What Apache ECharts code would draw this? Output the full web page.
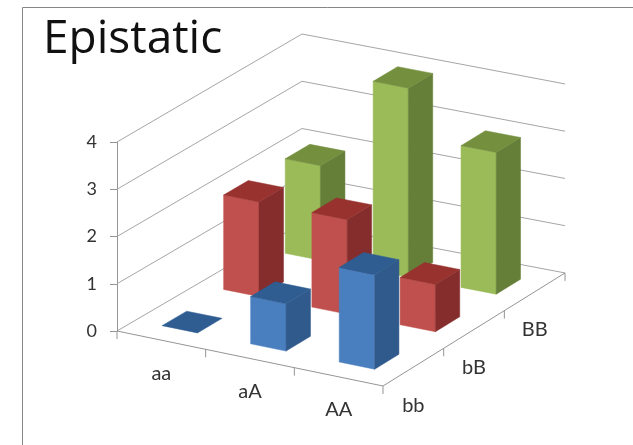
<!DOCTYPE html>
<html>
<head>
<meta charset="utf-8">
<title>Epistatic</title>
<style>
  html, body { margin: 0; padding: 0; background: #fff; }
  #chart { width: 633px; height: 445px; }
</style>
<script src="https://cdn.jsdelivr.net/npm/echarts@6/dist/echarts.min.js"></script>
</head>
<body>
<div id="chart"></div>
<script>
// Genotype categories along the two floor axes
const aLabels = ['aa', 'aA', 'AA'];
const bLabels = ['bb', 'bB', 'BB'];

// Phenotype value for each a-genotype, one list per b-genotype
const bbValues = [0, 1, 2];
const bBValues = [2, 2, 1];
const BBValues = [2, 4, 3];

const valueLevels = [0, 1, 2, 3, 4];

const LABEL_FONT = 'Lato, "Open Sans", sans-serif';
const AXIS_COLOR = '#959595';
const GRID_COLOR = '#a6a6a6';

// Oblique projection of the floor: screen offset per step along each axis
const SKEW_PER_A = 18.33;
const DEPTH_X = 61.67;
const DEPTH_Y = -36;
const TWIST_X = -0.33;
const TWIST_Y = -0.56;

// Bars occupy this fraction of a floor cell in both directions
const BAR_SIZE = 0.4;

// a and v go through the chart's own scales; depth is layered on as a shear
function project(api, a, d, v) {
  const p = api.coord([a, v]);
  return [
    p[0] + d * DEPTH_X + a * d * TWIST_X,
    p[1] + a * SKEW_PER_A + d * DEPTH_Y + a * d * TWIST_Y
  ];
}

function face(points, fill) {
  return { type: 'polygon', shape: { points }, style: { fill, stroke: fill, lineWidth: 0.5 } };
}

function barSeries(name, values, row, colors, z) {
  return {
    name,
    type: 'custom',
    z,
    data: values.map((v, i) => [i, v]),
    encode: { x: 0, y: 1 },
    renderItem(params, api) {
      const a0 = api.value(0) + (1 - BAR_SIZE) / 2;
      const a1 = a0 + BAR_SIZE;
      const d0 = row + (1 - BAR_SIZE) / 2;
      const d1 = d0 + BAR_SIZE;
      const v = api.value(1);
      const at = (a, d, h) => project(api, a, d, h);
      const children = [];
      if (v > 0) {
        children.push(face([at(a0, d0, 0), at(a1, d0, 0), at(a1, d0, v), at(a0, d0, v)], colors.front));
        children.push(face([at(a1, d0, 0), at(a1, d1, 0), at(a1, d1, v), at(a1, d0, v)], colors.side));
      }
      children.push(face([at(a0, d0, v), at(a1, d0, v), at(a1, d1, v), at(a0, d1, v)], colors.top));
      return { type: 'group', children };
    }
  };
}

function line(points, color) {
  return { type: 'polyline', shape: { points }, style: { stroke: color, lineWidth: 1, fill: 'none' } };
}

const chart = echarts.init(document.getElementById('chart'));

chart.setOption({
  animation: false,
  backgroundColor: '#ffffff',
  title: {
    text: 'Epistatic',
    left: 38,
    top: 12,
    textStyle: {
      fontFamily: '"Comic Sans MS", "Open Sans", sans-serif',
      fontWeight: 'normal',
      fontSize: 46,
      color: '#111111'
    }
  },
  graphic: [
    {
      type: 'polyline',
      silent: true,
      shape: { points: [[22.5, 445], [22.5, 7.5], [633, 7.5]] },
      style: { stroke: '#868686', lineWidth: 1, fill: 'none' }
    }
  ],
  grid: { left: 117, top: 142, width: 266, height: 189 },
  xAxis: { type: 'value', min: 0, max: aLabels.length, show: false },
  yAxis: {
    type: 'value',
    min: valueLevels[0],
    max: valueLevels[valueLevels.length - 1],
    interval: 1,
    splitLine: { show: false },
    axisLine: { show: true, lineStyle: { color: AXIS_COLOR } },
    axisTick: { show: true, length: 7, lineStyle: { color: AXIS_COLOR } },
    axisLabel: { margin: 20, fontFamily: LABEL_FONT, fontSize: 18, color: '#333333' }
  },
  series: [
    {
      // Back-wall gridlines, running across both walls at each value level
      type: 'custom',
      z: 1,
      silent: true,
      data: valueLevels.map((v) => [0, v]),
      encode: { x: 0, y: 1 },
      renderItem(params, api) {
        const v = api.value(1);
        const n = bLabels.length;
        const m = aLabels.length;
        return line([project(api, 0, 0, v), project(api, 0, n, v), project(api, m, n, v)], GRID_COLOR);
      }
    },
    {
      // Front and right floor edges with their downward ticks and category labels
      type: 'custom',
      z: 2,
      silent: true,
      data: [[0, 0]],
      encode: { x: 0, y: 1 },
      renderItem(params, api) {
        const n = bLabels.length;
        const m = aLabels.length;
        const children = [
          line([project(api, 0, 0, 0), project(api, m, 0, 0), project(api, m, n, 0)], AXIS_COLOR)
        ];
        const tick = (p) => line([p, [p[0], p[1] + 8]], AXIS_COLOR);
        for (let i = 0; i <= m; i++) children.push(tick(project(api, i, 0, 0)));
        for (let j = 1; j <= n; j++) children.push(tick(project(api, m, j, 0)));
        const label = (text, p, dy) => ({
          type: 'text',
          style: {
            text,
            x: p[0],
            y: p[1] + dy,
            align: 'center',
            verticalAlign: 'middle',
            fontFamily: LABEL_FONT,
            fontSize: 20,
            fill: '#333333'
          }
        });
        aLabels.forEach((t, i) => children.push(label(t, project(api, i + 0.5, 0, 0), 33)));
        bLabels.forEach((t, j) => children.push(label(t, project(api, m, j + 0.5, 0), 38)));
        return { type: 'group', children };
      }
    },
    barSeries('BB', BBValues, 2, { front: '#9bbb59', side: '#657f38', top: '#748f3e' }, 3),
    barSeries('bB', bBValues, 1, { front: '#c0504d', side: '#842d2c', top: '#97322f' }, 4),
    barSeries('bb', bbValues, 0, { front: '#4a7fbf', side: '#315a8c', top: '#2f5d92' }, 5)
  ]
});
</script>
</body>
</html>
